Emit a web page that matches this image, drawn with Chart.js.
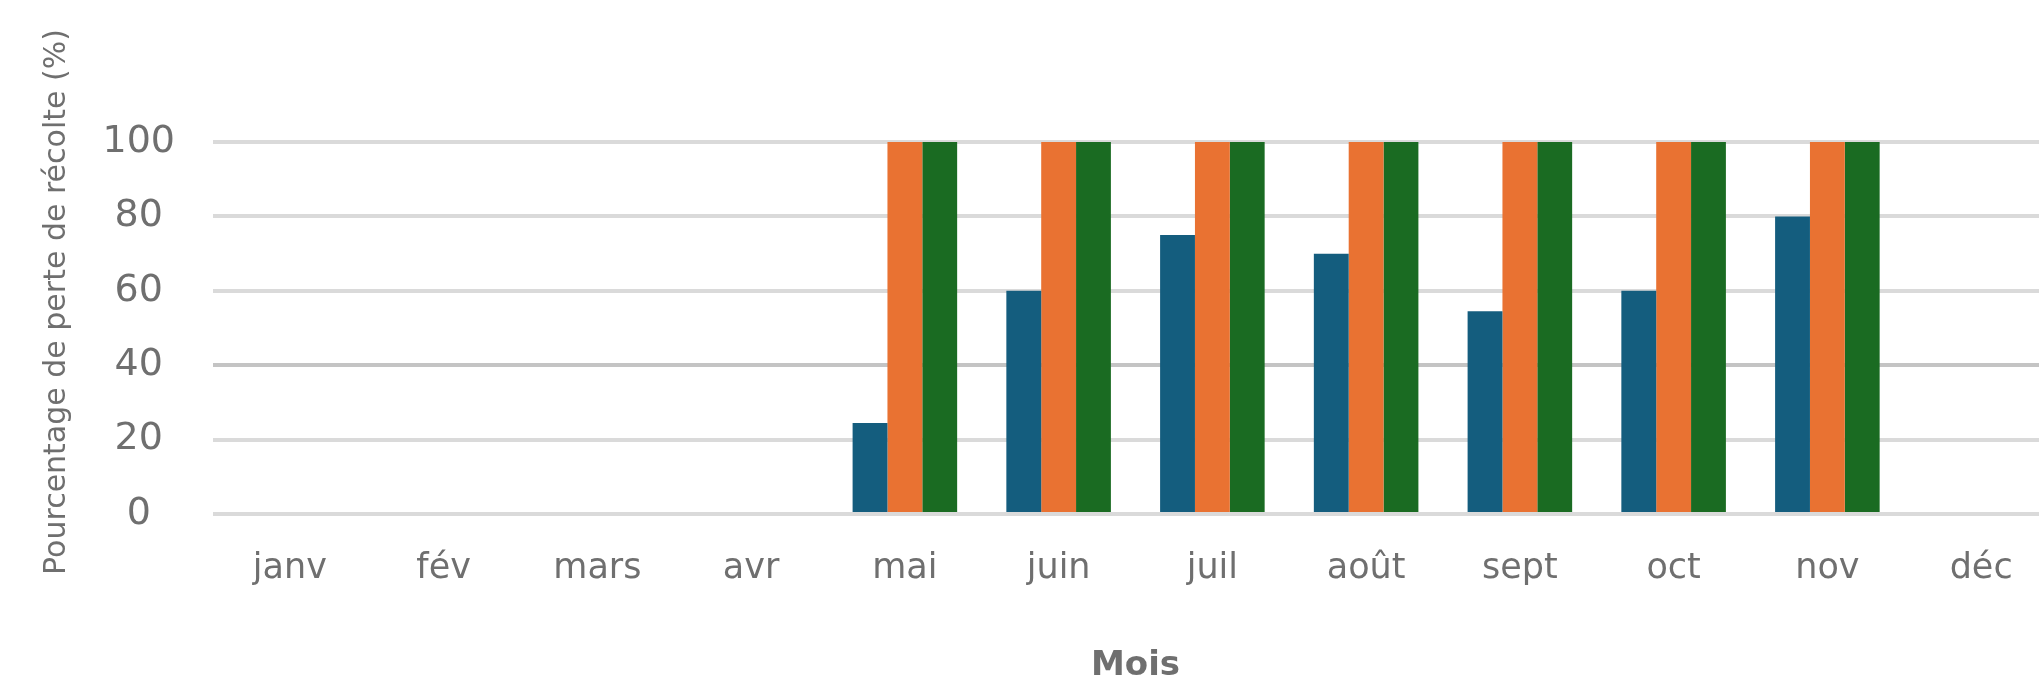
<!DOCTYPE html>
<html lang="fr">
<head>
<meta charset="utf-8">
<title>Perte de récolte par mois</title>
<script src="https://cdn.jsdelivr.net/npm/chart.js@4.4.1/dist/chart.umd.min.js"></script>
<style>
    html, body { margin: 0; padding: 0; background: #fff; overflow: hidden; }
    /* the plot runs a little past the right edge of the picture */
    #wrap { width: 2058px; height: 684px; position: relative; }
</style>
</head>
<body>
<div id="wrap"><canvas id="myBarChart"></canvas></div>
<script>
// Months on the x axis
const months = ['janv', 'fév', 'mars', 'avr', 'mai', 'juin', 'juil', 'août', 'sept', 'oct', 'nov', 'déc'];

// Crop loss values (%), null = no bar
const serieBleue  = [null, null, null, null, 24.5, 60, 75, 70, 54.5, 60, 80, null];
const serieOrange = [null, null, null, null, 100, 100, 100, 100, 100, 100, 100, null];
const serieVerte  = [null, null, null, null, 100, 100, 100, 100, 100, 100, 100, null];

// Y axis tick values
const yTicks = [0, 20, 40, 60, 80, 100];

const axisGrey = '#6f6f6f';

const ctx = document.getElementById('myBarChart').getContext('2d');

let chartData = {
    labels: months,
    datasets: [
        { data: serieBleue,  backgroundColor: '#145d7e' },
        { data: serieOrange, backgroundColor: '#e97232' },
        { data: serieVerte,  backgroundColor: '#1a6b22' }
    ]
};

let chartConfig = {
    type: 'bar',
    data: chartData,
    options: {
        responsive: true,
        maintainAspectRatio: false,
        animation: false,
        datasets: {
            bar: {
                categoryPercentage: 0.68,
                barPercentage: 1.0,
                borderWidth: 0
            }
        },
        layout: {
            padding: { top: 90, left: 0, right: 0, bottom: 0 }
        },
        plugins: {
            legend: { display: false },
            tooltip: { enabled: false }
        },
        scales: {
            x: {
                grid: { display: false, drawTicks: false },
                border: { display: false },
                ticks: {
                    color: axisGrey,
                    padding: 34,
                    maxRotation: 0,
                    autoSkip: false,
                    font: { family: 'DejaVu Sans', size: 35 }
                },
                title: {
                    display: true,
                    text: 'Mois',
                    color: axisGrey,
                    padding: { top: 0, bottom: 1 },
                    font: { family: 'DejaVu Sans', size: 34, weight: 'bold', lineHeight: 1.0 }
                },
                afterFit: function(scale) {
                    scale.height = 170;  // keeps the zero line where the picture has it
                }
            },
            y: {
                min: 0,
                max: 114,
                afterBuildTicks: function(scale) {
                    scale.ticks = yTicks.map(v => ({ value: v }));
                },
                grid: {
                    drawTicks: false,
                    lineWidth: 4,
                    color: (c) => (c.tick && c.tick.value === 40) ? '#c4c4c4' : '#dadada'
                },
                border: { display: false },
                ticks: {
                    color: axisGrey,
                    padding: 38,
                    crossAlign: 'center',
                    font: { family: 'DejaVu Sans', size: 38 }
                },
                title: {
                    display: true,
                    text: 'Pourcentage de perte de récolte (%)',
                    color: axisGrey,
                    padding: { top: 39, bottom: 0 },
                    font: { family: 'DejaVu Sans', size: 30 }
                },
                afterFit: function(scale) {
                    scale.width = 213;
                }
            }
        }
    }
};

const myBarChart = new Chart(ctx, chartConfig);
</script>
</body>
</html>
